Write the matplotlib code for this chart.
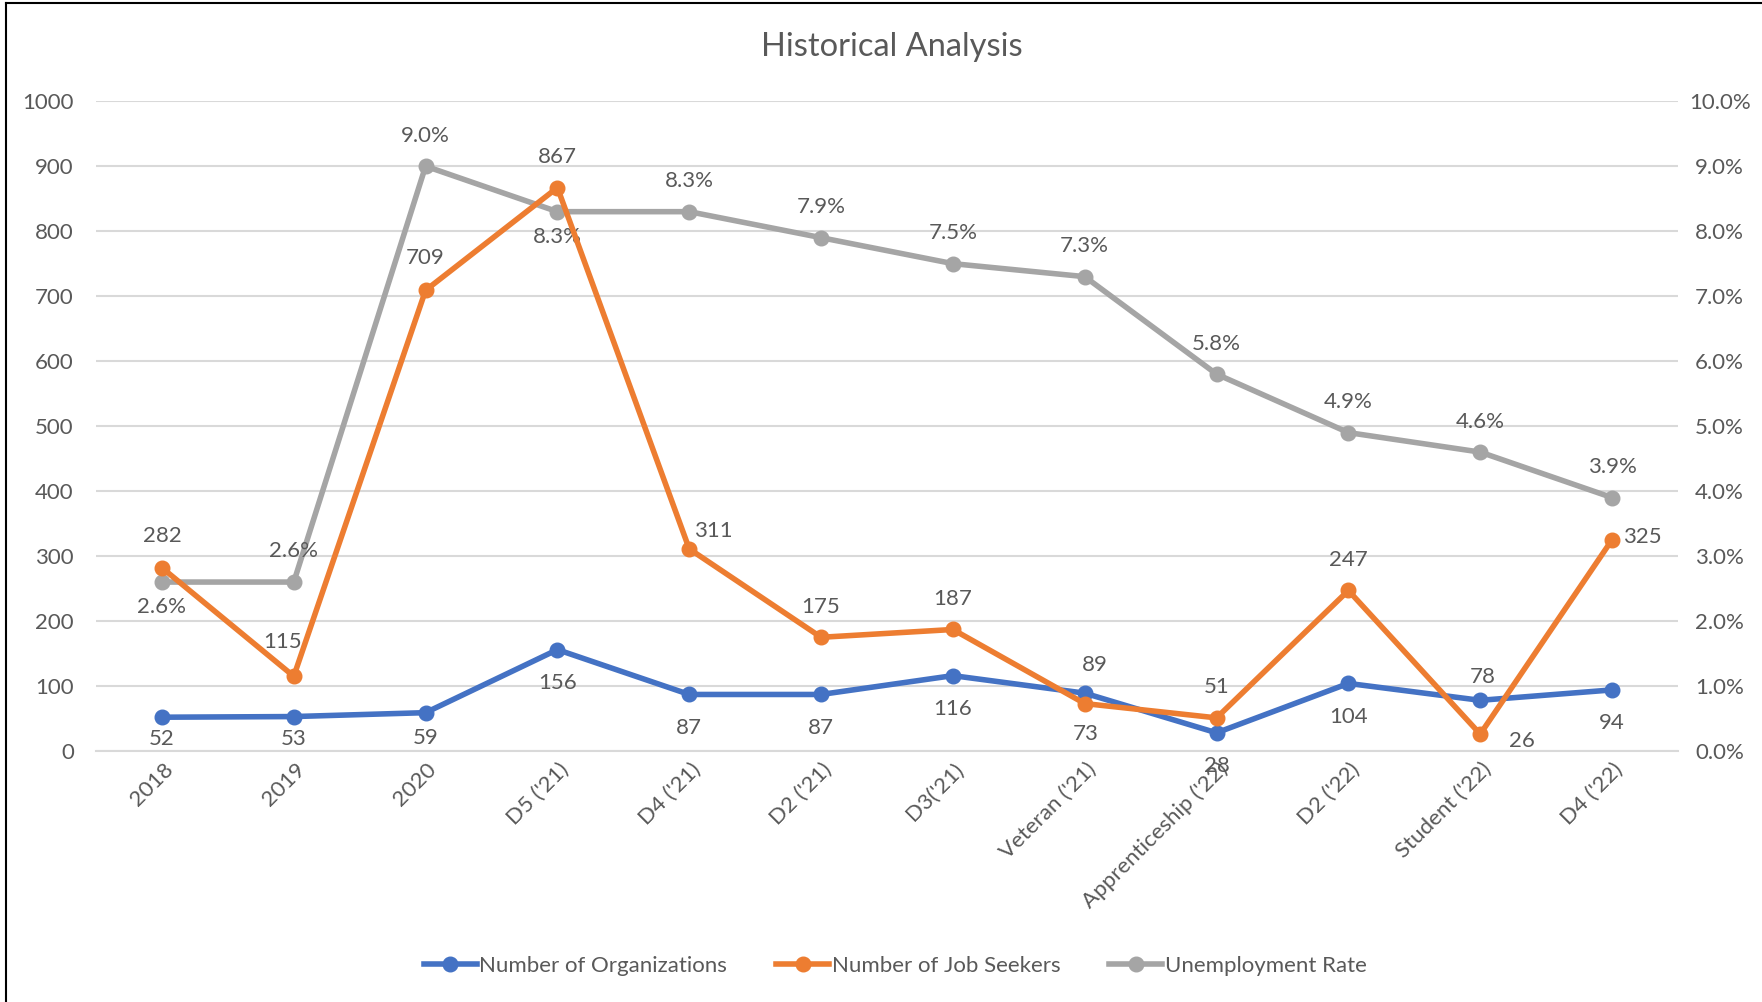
import matplotlib.pyplot as plt
import matplotlib.transforms as mtransforms
from matplotlib.lines import Line2D
from matplotlib.ticker import FuncFormatter

plt.rcParams['font.family'] = ['Lato', 'DejaVu Sans']

categories = ['2018', '2019', '2020', "D5 ('21)", "D4 ('21)", "D2 ('21)", "D3('21)",
              "Veteran ('21)", "Apprenticeship ('22)", "D2 ('22)", "Student ('22)", "D4 ('22)"]
organizations = [52, 53, 59, 156, 87, 87, 116, 89, 28, 104, 78, 94]
job_seekers = [282, 115, 709, 867, 311, 175, 187, 73, 51, 247, 26, 325]
unemployment = [0.026, 0.026, 0.090, 0.083, 0.083, 0.079, 0.075, 0.073, 0.058, 0.049, 0.046, 0.039]

# label offsets (points) for each data label
org_off = [(0, -16), (0, -16), (0, -18), (0, -24), (0, -24), (0, -24), (0, -24),
           (7, 20), (0, -24), (0, -24), (2, 17), (0, -24)]
seek_off = [(0, 23), (-8, 25), (0, 23), (0, 22), (17, 13), (0, 22), (0, 22),
            (1, -22), (0, 22), (0, 22), (30, -5), (22, 2)]
rate_off = [(0, -18), (0, 22), (0, 22), (0, -18), (0, 22), (0, 22), (0, 22),
            (0, 22), (0, 22), (0, 22), (0, 22), (0, 22)]

BLUE = '#4472C4'
ORANGE = '#ED7D31'
GRAY = '#A5A5A5'
TXT = '#595959'
FS = 16
LW = 4
MS = 10.5

fig = plt.figure(figsize=(17.62, 10.02), dpi=100)
ax2 = fig.add_axes([0.0545, 0.2505, 0.8978, 0.6485])
ax = fig.add_axes([0.0545, 0.2505, 0.8978, 0.6485], sharex=ax2)
ax2.yaxis.tick_right()
ax.set_zorder(2)
ax.patch.set_visible(False)

x = list(range(len(categories)))

ax2.plot(x, unemployment, color=GRAY, lw=LW, marker='o', ms=MS)
ax.plot(x, organizations, color=BLUE, lw=LW, marker='o', ms=MS)
ax.plot(x, job_seekers, color=ORANGE, lw=LW, marker='o', ms=MS)

ax.set_xlim(-0.5, len(categories) - 0.5)
ax.set_ylim(0, 1000)
ax2.set_ylim(0, 0.10)
ax.set_yticks(range(0, 1001, 100))
ax2.set_yticks([i / 100 for i in range(0, 11)])
ax2.yaxis.set_major_formatter(FuncFormatter(lambda v, p: '%.1f%%' % (v * 100)))

ax2.grid(axis='y', color='#D9D9D9', lw=1.5)
ax2.set_axisbelow(True)
for a in (ax, ax2):
    for s in a.spines.values():
        s.set_visible(False)
ax2.spines['bottom'].set_visible(True)
ax2.spines['bottom'].set_color('#D9D9D9')
ax2.spines['bottom'].set_linewidth(1.5)

ax.tick_params(axis='y', length=0, pad=16, labelsize=FS, labelcolor=TXT)
ax2.tick_params(axis='y', length=0, pad=30, labelsize=FS, labelcolor=TXT)
for lab in ax2.get_yticklabels():
    lab.set_horizontalalignment('center')
ax.tick_params(axis='x', length=0, labelbottom=False)
ax2.tick_params(axis='x', length=0, pad=11, labelsize=FS, labelcolor=TXT)
ax2.set_xticks(x)
ax2.set_xticklabels(categories, rotation=45, ha='right', va='center', rotation_mode='anchor')
shift = mtransforms.ScaledTranslation(8 / 100, 0, fig.dpi_scale_trans)
for lab in ax2.get_xticklabels():
    lab.set_transform(lab.get_transform() + shift)

for i in x:
    ax.annotate(str(organizations[i]), (i, organizations[i]), xytext=org_off[i],
                textcoords='offset points', ha='center', va='center', fontsize=FS, color=TXT)
    ax.annotate(str(job_seekers[i]), (i, job_seekers[i]), xytext=seek_off[i],
                textcoords='offset points', ha='center', va='center', fontsize=FS, color=TXT)
    ax2.annotate('%.1f%%' % (unemployment[i] * 100), (i, unemployment[i]), xytext=rate_off[i],
                 textcoords='offset points', ha='center', va='center', fontsize=FS, color=TXT)

fig.text(0.506, 0.953, 'Historical Analysis', ha='center', va='center', fontsize=23.5, color=TXT)

handles = [Line2D([], [], color=BLUE, lw=LW, marker='o', ms=MS),
           Line2D([], [], color=ORANGE, lw=LW, marker='o', ms=MS),
           Line2D([], [], color=GRAY, lw=LW, marker='o', ms=MS)]
fig.legend(handles, ['Number of Organizations', 'Number of Job Seekers', 'Unemployment Rate'],
           loc='center', bbox_to_anchor=(0.508, 0.036), ncol=3, frameon=False,
           fontsize=FS, labelcolor=TXT, handlelength=2.4, handletextpad=0.1, columnspacing=2.2)

# outer chart border (left and top edges visible)
fig.add_artist(Line2D([0.0035, 0.0035], [0, 0.997], color='black', lw=1.5, transform=fig.transFigure))
fig.add_artist(Line2D([0.0035, 1], [0.997, 0.997], color='black', lw=1.5, transform=fig.transFigure))

fig.savefig('out.png', dpi=100)
